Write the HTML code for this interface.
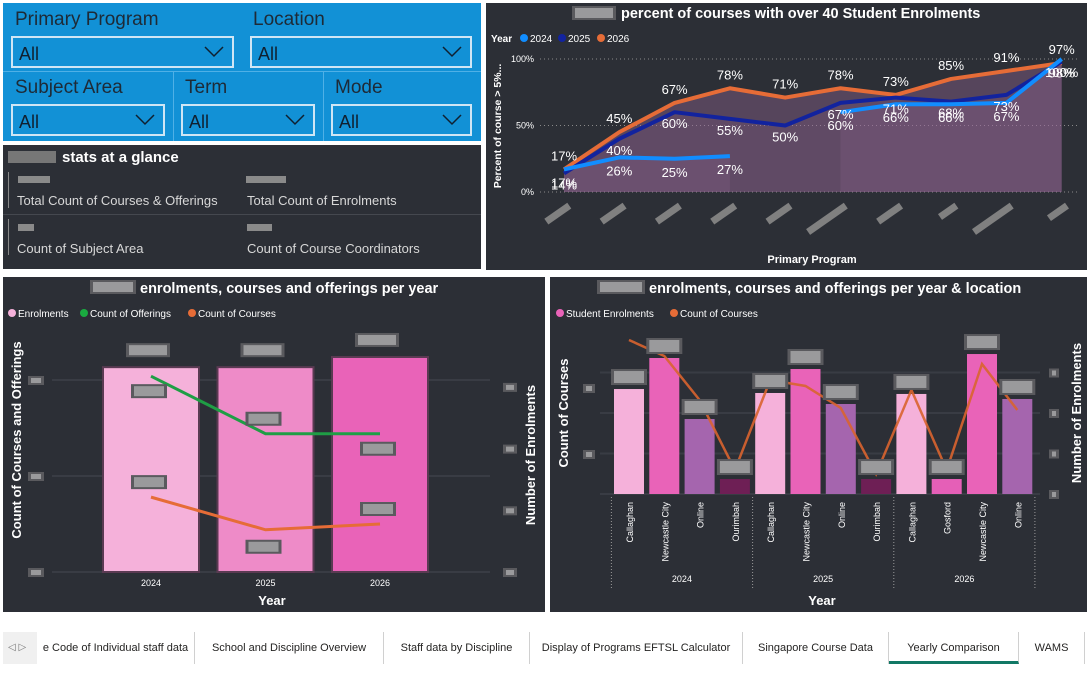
<!DOCTYPE html>
<html><head><meta charset="utf-8">
<style>
*{margin:0;padding:0;box-sizing:border-box}
body{width:1091px;height:674px;background:#fff;position:relative;overflow:hidden;font-family:"Liberation Sans",sans-serif}
.abs{position:absolute}
.panel{position:absolute;background:#2c2f36}
.slab{position:absolute;color:#1e2a36;font-size:19px}
.dd{position:absolute;border:2px solid #cfe6f5;height:32px;color:#102030;font-size:18px;padding:6px 0 0 6px}
.dd svg{position:absolute;right:8px;top:8px}
.st{position:absolute;color:#d8d8d8;font-size:13px}
.blk{position:absolute;background:#8a8a8a;height:7px}
.tab{position:absolute;top:632px;height:32px;font-size:11px;color:#252423;line-height:32px;text-align:center;border-right:1px solid #d0d0d0}
</style></head><body>

<div class="abs" style="left:3px;top:3px;width:478px;height:138px;background:#1291d6"></div>
<div class="abs" style="left:3px;top:71px;width:478px;height:1px;background:#4fb0e6"></div>
<div class="abs" style="left:173px;top:72px;width:1px;height:69px;background:#4fb0e6"></div>
<div class="abs" style="left:323px;top:72px;width:1px;height:69px;background:#4fb0e6"></div>
<div class="slab" style="left:15px;top:9px">Primary Program</div>
<div class="dd" style="left:11px;top:36px;width:223px">All<svg width="20" height="12"><path d="M1 1L10 10L19 1" stroke="#102030" stroke-width="1.5" fill="none"/></svg></div>
<div class="slab" style="left:253px;top:9px">Location</div>
<div class="dd" style="left:250px;top:36px;width:222px">All<svg width="20" height="12"><path d="M1 1L10 10L19 1" stroke="#102030" stroke-width="1.5" fill="none"/></svg></div>
<div class="slab" style="left:15px;top:77px">Subject Area</div>
<div class="dd" style="left:11px;top:104px;width:154px">All<svg width="20" height="12"><path d="M1 1L10 10L19 1" stroke="#102030" stroke-width="1.5" fill="none"/></svg></div>
<div class="slab" style="left:185px;top:77px">Term</div>
<div class="dd" style="left:181px;top:104px;width:134px">All<svg width="20" height="12"><path d="M1 1L10 10L19 1" stroke="#102030" stroke-width="1.5" fill="none"/></svg></div>
<div class="slab" style="left:335px;top:77px">Mode</div>
<div class="dd" style="left:331px;top:104px;width:141px">All<svg width="20" height="12"><path d="M1 1L10 10L19 1" stroke="#102030" stroke-width="1.5" fill="none"/></svg></div>

<div class="panel" style="left:3px;top:145px;width:478px;height:124px"></div>
<div class="blk" style="left:8px;top:151px;width:48px;height:12px;background:#777"></div>
<div class="st" style="left:62px;top:149px;font-size:15px;font-weight:bold;color:#fff">stats at a glance</div>
<div class="abs" style="left:3px;top:214px;width:478px;height:1px;background:#45484f"></div>
<div class="abs" style="left:8px;top:172px;width:1px;height:36px;background:#888"></div>
<div class="abs" style="left:8px;top:219px;width:1px;height:36px;background:#888"></div>
<div class="blk" style="left:18px;top:176px;width:32px"></div>
<div class="st" style="left:17px;top:193px">Total Count of Courses &amp; Offerings</div>
<div class="blk" style="left:246px;top:176px;width:40px"></div>
<div class="st" style="left:247px;top:193px">Total Count of Enrolments</div>
<div class="blk" style="left:18px;top:224px;width:16px"></div>
<div class="st" style="left:17px;top:241px">Count of Subject Area</div>
<div class="blk" style="left:247px;top:224px;width:25px"></div>
<div class="st" style="left:247px;top:241px">Count of Course Coordinators</div>

<div class="panel" style="left:486px;top:3px;width:601px;height:267px"></div>
<div class="panel" style="left:3px;top:277px;width:542px;height:335px"></div>
<div class="panel" style="left:550px;top:277px;width:537px;height:335px"></div>

<svg id="c1" class="abs" style="left:486px;top:3px" width="601" height="267" viewBox="486 3 601 267"></svg>
<svg id="c2" class="abs" style="left:3px;top:277px" width="542" height="335" viewBox="3 277 542 335"></svg>
<svg id="c3" class="abs" style="left:550px;top:277px" width="537" height="335" viewBox="550 277 537 335"></svg>

<div class="abs" style="left:3px;top:632px;width:34px;height:32px;background:#f0f0f0;font-size:10px;color:#777;line-height:32px;padding-left:5px">◁ ▷</div>
<div class="tab" style="left:37px;width:158px">e Code of Individual staff data</div>
<div class="tab" style="left:195px;width:189px">School and Discipline Overview</div>
<div class="tab" style="left:384px;width:146px">Staff data by Discipline</div>
<div class="tab" style="left:530px;width:213px">Display of Programs EFTSL Calculator</div>
<div class="tab" style="left:743px;width:146px">Singapore Course Data</div>
<div class="tab" style="left:889px;width:130px;border-bottom:3px solid #117865">Yearly Comparison</div>
<div class="tab" style="left:1019px;width:66px">WAMS</div>

<script>
const NS='http://www.w3.org/2000/svg';
function mk(tag,attrs,parent,text){const e=document.createElementNS(NS,tag);for(const k in attrs)e.setAttribute(k,attrs[k]);if(text!==undefined)e.textContent=text;parent.appendChild(e);return e;}

// ---------- Chart 1 data ----------
const programs=['p1','p2','p3','p4','p5','p6','p7','p8','p9','p10'];
const pct2024=[17,26,25,27,null,60,66,66,67,100];
const pct2025=[14,40,60,55,50,67,71,68,73,98];
const pct2026=[17,45,67,78,71,78,73,85,91,97];
const pctTicks=[0,50,100];
const labelW=[22,22,22,22,22,40,22,14,40,16];

// ---------- Chart 2 data ----------
const years=['2024','2025','2026'];
const enrolments=[3320,3320,3485];
const offerings=[102,72,72];
const courses=[39,22,25];
const leftTicks2=[0,50,100];
const rightTicks2=[0,1000,2000,3000];

// ---------- Chart 3 data ----------
const locYears=['2024','2024','2024','2024','2025','2025','2025','2025','2026','2026','2026','2026'];
const locNames=['Callaghan','Newcastle City','Online','Ourimbah','Callaghan','Newcastle City','Online','Ourimbah','Callaghan','Gosford','Newcastle City','Online'];
const locEnrol=[1296,1679,926,185,1247,1543,1111,185,1235,185,1728,1173];
const locCourses=[77,69,47,12,57,54,43,10,52,12,65,42];
const rightTicks3=[0,500,1000,1500];
const leftTicks3=[20,53];

const locColor={'Callaghan':'#f5b1da','Newcastle City':'#e963b8','Online':'#a565ae','Ourimbah':'#6e1f55','Gosford':'#e55fb7'};

function blur(p,x,y,w,h){const g=mk('g',{},p);


mk('rect',{x:x,y:y,width:w,height:h,fill:'#5a5a5e'},g);mk('rect',{x:x+3,y:y+2,width:w-6,height:h-4,fill:'#9a9a9c'},g);return g;}

// ===== Chart 1 =====
(function(){
const s=document.getElementById('c1');
const x=i=>564+i*55.3, y=v=>192-v*1.33;
const t=mk('text',{x:621,y:18,fill:'#fff','font-size':14.5,'font-weight':'bold','text-anchor':'start'},s,'percent of courses with over 40 Student Enrolments');


blur(s,572,6,44,14);
const lg=mk('g',{'font-size':10,fill:'#fff'},s);


mk('text',{x:491,y:42,'font-weight':'bold'},lg,'Year');
[['2024','#118dff',524],['2025','#12239e',562],['2026','#e66c37',601]].forEach(d=>{
 mk('circle',{cx:d[2],cy:38,r:4,fill:d[1]},lg);mk('text',{x:d[2]+6,y:42},lg,d[0]);});
pctTicks.forEach(v=>{
 const gl=mk('line',{x1:540,x2:1080,y1:y(v),y2:y(v),stroke:'#8a8a8a','stroke-dasharray':'1 3'},s);
 
 
 const tl=mk('text',{x:534,y:y(v)+3,fill:'#fff','font-size':9,'text-anchor':'end'},s,v+'%');
 
 
});
const yt=mk('text',{transform:'translate(501,126) rotate(-90)',fill:'#fff','font-size':10.5,'font-weight':'bold','text-anchor':'middle'},s,'Percent of course > 5%...');


const xt=mk('text',{x:812,y:263,fill:'#fff','font-size':11,'font-weight':'bold','text-anchor':'middle'},s,'Primary Program');


programs.forEach((p,i)=>{
 const r=mk('rect',{x:x(i)-labelW[i]-2,y:205,width:labelW[i]+6,height:7,fill:'#808080',transform:`rotate(-35 ${x(i)} 205)`},s);
 
 
});
function segs(arr){const out=[];let cur=[];arr.forEach((v,i)=>{if(v==null){if(cur.length)out.push(cur);cur=[];}else cur.push([x(i),y(v)]);});if(cur.length)out.push(cur);return out;}
const series=[[pct2026,'#e66c37',0.38,'series-2026'],[pct2025,'#12239e',0.15,'series-2025'],[pct2024,'#118dff',0.2,'series-2024']];
series.forEach(sr=>{segs(sr[0]).forEach(sg=>{
 const a=mk('path',{d:'M'+sg.map(p=>p.join(',')).join('L')+`L${sg[sg.length-1][0]},192L${sg[0][0]},192Z`,fill:sg.length>1?'#9a6a9a':'none',opacity:sr[2]},s);
 
 
});});
series.forEach(sr=>{segs(sr[0]).forEach(sg=>{
 const l=mk('path',{d:'M'+sg.map(p=>p.join(',')).join('L'),stroke:sr[1],'stroke-width':4,fill:'none','stroke-linejoin':'round'},s);
 
 
});});
const offs=[-9,16,18];
series.forEach((sr,k)=>{sr[0].forEach((v,i)=>{if(v==null)return;
 const tx=mk('text',{x:x(i),y:y(v)+offs[k],fill:'#fff','font-size':13,'text-anchor':'middle'},s,v+'%');
 
 
});});
})();

// ===== Chart 2 =====
(function(){
const s=document.getElementById('c2');
const xc=i=>151+i*114.5, yR=v=>572-v*0.0617, yL=v=>572-v*1.92;
const t=mk('text',{x:140,y:293,fill:'#fff','font-size':14.5,'font-weight':'bold','text-anchor':'start'},s,'enrolments, courses and offerings per year');


blur(s,90,280,46,14);
const lg=mk('g',{'font-size':10,fill:'#fff'},s);


[['Enrolments','#f5b1da',12],['Count of Offerings','#1aab40',84],['Count of Courses','#e66c37',192]].forEach(d=>{
 mk('circle',{cx:d[2],cy:313,r:4,fill:d[1]},lg);mk('text',{x:d[2]+6,y:317},lg,d[0]);});
leftTicks2.forEach(v=>{
 const gl=mk('line',{x1:52,x2:490,y1:yL(v),y2:yL(v),stroke:'#393c44','stroke-width':2},s);
 
 
 blur(s,28,yL(v)-4,16,9);
});
rightTicks2.forEach(v=>{blur(s,503,yR(v)-4,14,9);});
const cols=['#f5b1da','#ee8bc8','#e963b8'];
years.forEach((yr,i)=>{
 const b=mk('rect',{x:xc(i)-48,y:yR(enrolments[i]),width:96,height:572-yR(enrolments[i]),fill:cols[i],stroke:'#5a3a52','stroke-width':2},s);
 
 
 blur(s,xc(i)-25,yR(enrolments[i])-24,44,14);
 const tl=mk('text',{x:xc(i),y:586,fill:'#fff','font-size':9,'text-anchor':'middle'},s,yr);
 
 
});
const gp=mk('path',{d:'M'+offerings.map((v,i)=>xc(i)+','+yL(v)).join('L'),stroke:'#1f9e45','stroke-width':3,fill:'none'},s);


const op=mk('path',{d:'M'+courses.map((v,i)=>xc(i)+','+yL(v)).join('L'),stroke:'#e66c37','stroke-width':3,fill:'none'},s);


const oOff=[8,-22,8], cOff=[-22,10,-22];
offerings.forEach((v,i)=>blur(s,xc(i)-20,yL(v)+oOff[i],36,14));
courses.forEach((v,i)=>blur(s,xc(i)-20,yL(v)+cOff[i],36,14));
const xt=mk('text',{x:272,y:605,fill:'#fff','font-size':13,'font-weight':'bold','text-anchor':'middle'},s,'Year');


const yt=mk('text',{transform:'translate(21,440) rotate(-90)',fill:'#fff','font-size':13,'font-weight':'bold','text-anchor':'middle'},s,'Count of Courses and Offerings');


const yr2=mk('text',{transform:'translate(535,455) rotate(-90)',fill:'#fff','font-size':13,'font-weight':'bold','text-anchor':'middle'},s,'Number of Enrolments');


})();

// ===== Chart 3 =====
(function(){
const s=document.getElementById('c3');
const xc=i=>629+i*35.3, yR=v=>494-v*0.081, yL=v=>494-v*2;
const t=mk('text',{x:649,y:293,fill:'#fff','font-size':14.5,'font-weight':'bold','text-anchor':'start'},s,'enrolments, courses and offerings per year & location');


blur(s,597,280,48,14);
const lg=mk('g',{'font-size':10,fill:'#fff'},s);


[['Student Enrolments','#e963b8',560],['Count of Courses','#e66c37',674]].forEach(d=>{
 mk('circle',{cx:d[2],cy:313,r:4,fill:d[1]},lg);mk('text',{x:d[2]+6,y:317},lg,d[0]);});
rightTicks3.forEach(v=>{
 const gl=mk('line',{x1:600,x2:1040,y1:yR(v),y2:yR(v),stroke:'#393c44','stroke-width':2},s);
 
 
 blur(s,1049,yR(v)-4,10,9);
});
leftTicks3.forEach(v=>blur(s,583,yL(v)-4,12,9));
locNames.forEach((n,i)=>{
 const b=mk('rect',{x:xc(i)-15,y:yR(locEnrol[i]),width:30,height:494-yR(locEnrol[i]),fill:locColor[n]},s);
 
 
 const tl=mk('text',{transform:`translate(${xc(i)+4},502) rotate(-90)`,fill:'#fff','font-size':9,'text-anchor':'end'},s,n);
 
 
});
const lp=mk('path',{d:'M'+locCourses.map((v,i)=>xc(i)+','+yL(v)).join('L'),stroke:'#d9642f','stroke-width':2.5,fill:'none',opacity:0.9},s);


locNames.forEach((n,i)=>blur(s,xc(i)-18,yR(locEnrol[i])-20,36,16));
const groups=[...new Set(locYears)];
groups.forEach(g=>{
 const idx=locYears.map((y,i)=>y==g?i:-1).filter(i=>i>=0);
 const cx=(xc(idx[0])+xc(idx[idx.length-1]))/2;
 const tl=mk('text',{x:cx,y:582,fill:'#fff','font-size':9,'text-anchor':'middle'},s,g);
 
 
 const sep=mk('line',{x1:xc(idx[0])-17.6,x2:xc(idx[0])-17.6,y1:497,y2:590,stroke:'#999','stroke-dasharray':'1 2'},s);
 
 
});
const sepEnd=mk('line',{x1:xc(11)+17.6,x2:xc(11)+17.6,y1:497,y2:590,stroke:'#999','stroke-dasharray':'1 2'},s);


const xt=mk('text',{x:822,y:605,fill:'#fff','font-size':13,'font-weight':'bold','text-anchor':'middle'},s,'Year');


const yt=mk('text',{transform:'translate(568,413) rotate(-90)',fill:'#fff','font-size':13,'font-weight':'bold','text-anchor':'middle'},s,'Count of Courses');


const yr2=mk('text',{transform:'translate(1081,413) rotate(-90)',fill:'#fff','font-size':13,'font-weight':'bold','text-anchor':'middle'},s,'Number of Enrolments');


})();
</script>
</body></html>
